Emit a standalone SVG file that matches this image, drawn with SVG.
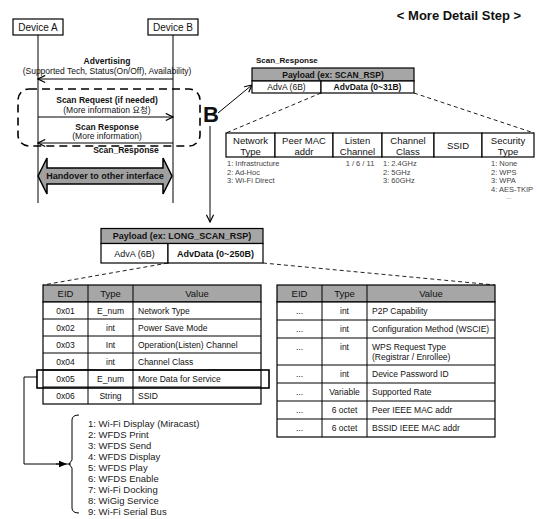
<svg xmlns="http://www.w3.org/2000/svg" width="537" height="519" viewBox="0 0 537 519">
<defs>
<style>
text{font-family:'Liberation Sans',Arial,'Noto Sans CJK KR',sans-serif;fill:#111}
.b{font-weight:bold}
.c{text-anchor:middle}
.s85{font-size:8.5px}
.s9{font-size:9px}
.s95{font-size:9.5px}
.sub{font-size:7.5px;fill:#444}
.lst{font-size:9.5px;fill:#222}
.box{fill:#fff;stroke:#000;stroke-width:1.2}
.hd{fill:#a6a6a6;stroke:#000;stroke-width:1.2}
.ln{fill:none;stroke:#000;stroke-width:1}
.dash{fill:none;stroke:#222;stroke-width:1;stroke-dasharray:4,3}
</style>
<marker id="open" viewBox="0 0 10 10" refX="9" refY="5" markerWidth="9" markerHeight="9" orient="auto" markerUnits="userSpaceOnUse">
<path d="M1,1 L9,5 L1,9" fill="none" stroke="#000" stroke-width="1.3"/>
</marker>
<marker id="fill" viewBox="0 0 10 10" refX="5" refY="5" markerWidth="8" markerHeight="8" orient="auto" markerUnits="userSpaceOnUse">
<path d="M0,1 L10,5 L0,9 Z" fill="#000"/>
</marker>
</defs>
<rect width="537" height="519" fill="#fff"/>

<text x="459" y="19.5" class="b c" style="font-size:13px">&lt; More Detail Step &gt;</text>

<g id="deviceA">
<line x1="38" y1="35" x2="38" y2="203" class="ln"/>
<rect x="13" y="19" width="50" height="16" class="box"/>
<text x="38" y="30.5" class="c" style="font-size:10px">Device A</text>
</g>
<g id="deviceB">
<line x1="173" y1="35" x2="173" y2="203" class="ln"/>
<rect x="148" y="19" width="50" height="16" class="box"/>
<text x="173" y="30.5" class="c" style="font-size:10px">Device B</text>
</g>

<g id="scan-group">
<rect x="18" y="89" width="182" height="57" rx="11" fill="none" stroke="#000" stroke-width="1.6" stroke-dasharray="8,5"/>
</g>

<g id="connectors">
<line x1="173" y1="79" x2="38" y2="79" class="ln" marker-end="url(#open)"/>
<line x1="38" y1="117" x2="173" y2="117" class="ln" marker-end="url(#open)"/>
<line x1="173" y1="143" x2="38" y2="143" class="ln" marker-end="url(#open)"/>
<line x1="218" y1="113" x2="252" y2="85" class="ln" marker-end="url(#open)"/>
<line x1="210" y1="126" x2="210" y2="222" class="ln" marker-end="url(#open)"/>
<line x1="321" y1="93" x2="226" y2="133" class="dash"/>
<line x1="414" y1="93" x2="534" y2="133" class="dash"/>
<line x1="168" y1="263" x2="43" y2="285" class="dash"/>
<line x1="263" y1="263" x2="495" y2="285" class="dash"/>
<path d="M37,377 H24 V464 H71" class="ln"/>
<path d="M56,464 H63" class="ln" marker-end="url(#fill)"/>
</g>

<g id="messages">
<text x="107" y="64" class="b c s85">Advertising</text>
<text x="107" y="74" class="c s85">(Supported Tech, Status(On/Off), Availability)</text>
<text x="107" y="103" class="b c s85">Scan Request (if needed)</text>
<text x="107" y="113" class="c s85">(More information 요청)</text>
<text x="107" y="130" class="b c s85">Scan Response</text>
<text x="107" y="139" class="c s85">(More information)</text>
<text x="126" y="153" class="b c s85">Scan_Response</text>
</g>

<g id="handover">
<path d="M38,176 L47,158 L47,168 L163,168 L163,158 L172,176 L163,194 L163,184 L47,184 L47,194 Z" fill="#a0a0a0" stroke="#000" stroke-width="1.5"/>
<text x="105" y="179" class="b c s9">Handover to other interface</text>
</g>

<g id="B">
<text x="203" y="122" class="b" style="font-size:22px">B</text>
</g>

<g id="scan-payload">
<text x="256" y="63" class="b" style="font-size:8px">Scan_Response</text>
<rect x="252" y="68" width="162" height="13" class="hd"/>
<rect x="252" y="81" width="69" height="12" class="box"/>
<rect x="321" y="81" width="93" height="12" class="box"/>
<text x="333" y="77.5" class="b c s85">Payload (ex: SCAN_RSP)</text>
<text x="286.5" y="90" class="c s85">AdvA (6B)</text>
<text x="367.5" y="90" class="b c s85">AdvData (0~31B)</text>
</g>

<g id="scan-fields">
<rect x="226" y="133" width="49" height="24" class="box"/>
<rect x="275" y="133" width="58" height="24" class="box"/>
<rect x="333" y="133" width="49" height="24" class="box"/>
<rect x="382" y="133" width="52" height="24" class="box"/>
<rect x="434" y="133" width="48" height="24" class="box"/>
<rect x="482" y="133" width="52" height="24" class="box"/>
<text x="250.5" y="144" class="c s95">Network</text>
<text x="250.5" y="154.5" class="c s95">Type</text>
<text x="304" y="144" class="c s95">Peer MAC</text>
<text x="304" y="154.5" class="c s95">addr</text>
<text x="357.5" y="144" class="c s95">Listen</text>
<text x="357.5" y="154.5" class="c s95">Channel</text>
<text x="408" y="144" class="c s95">Channel</text>
<text x="408" y="154.5" class="c s95">Class</text>
<text x="458" y="148.5" class="c s95">SSID</text>
<text x="508" y="144" class="c s95">Security</text>
<text x="508" y="154.5" class="c s95">Type</text>
<text x="227" y="166" class="sub">1:  Infrastructure</text>
<text x="227" y="174.5" class="sub">2:  Ad-Hoc</text>
<text x="227" y="183" class="sub">3:  Wi-Fi Direct</text>
<text x="360" y="166" class="sub c">1 / 6 / 11</text>
<text x="383" y="166" class="sub">1:  2.4GHz</text>
<text x="383" y="174.5" class="sub">2:  5GHz</text>
<text x="383" y="183" class="sub">3:  60GHz</text>
<text x="491" y="166" class="sub">1:  None</text>
<text x="491" y="174.5" class="sub">2:  WPS</text>
<text x="491" y="183" class="sub">3:  WPA</text>
<text x="491" y="191.5" class="sub">4:  AES-TKIP</text>
<text x="506" y="199" class="sub" style="font-size:5px">....</text>
</g>

<g id="long-payload">
<rect x="101" y="228.5" width="162" height="15" class="hd"/>
<rect x="101" y="243.5" width="67" height="19.5" class="box"/>
<rect x="168" y="243.5" width="95" height="19.5" class="box"/>
<text x="182" y="239.2" class="b c s9">Payload (ex: LONG_SCAN_RSP)</text>
<text x="134.5" y="256.5" class="c s9">AdvA (6B)</text>
<text x="215.5" y="256.5" class="b c s9">AdvData (0~250B)</text>
</g>

<g id="table-left">
<rect x="43" y="285" width="218" height="17" class="hd"/>
<rect x="43" y="302" width="218" height="102" class="box"/>
<path d="M43,319 H261 M43,336 H261 M43,353 H261 M43,370 H261 M43,387 H261 M88,285 V404 M133,285 V404" class="ln"/>
<text x="65.5" y="297" class="c s95">EID</text>
<text x="110.5" y="297" class="c s95">Type</text>
<text x="197" y="297" class="c s95">Value</text>
<text x="65.5" y="313.5" class="c s85">0x01</text>
<text x="110.5" y="313.5" class="c s85">E_num</text>
<text x="138" y="313.5" class="s85">Network Type</text>
<text x="65.5" y="330.5" class="c s85">0x02</text>
<text x="110.5" y="330.5" class="c s85">int</text>
<text x="138" y="330.5" class="s85">Power Save Mode</text>
<text x="65.5" y="347.5" class="c s85">0x03</text>
<text x="110.5" y="347.5" class="c s85">Int</text>
<text x="138" y="347.5" class="s85">Operation(Listen) Channel</text>
<text x="65.5" y="364.5" class="c s85">0x04</text>
<text x="110.5" y="364.5" class="c s85">int</text>
<text x="138" y="364.5" class="s85">Channel Class</text>
<text x="65.5" y="381.5" class="c s85">0x05</text>
<text x="110.5" y="381.5" class="c s85">E_num</text>
<text x="138" y="381.5" class="s85">More Data for Service</text>
<text x="65.5" y="398.5" class="c s85">0x06</text>
<text x="110.5" y="398.5" class="c s85">String</text>
<text x="138" y="398.5" class="s85">SSID</text>
<rect x="37" y="370" width="232" height="18" fill="none" stroke="#000" stroke-width="1.6"/>
</g>

<g id="table-right">
<rect x="277" y="285" width="218" height="17" class="hd"/>
<rect x="277" y="302" width="218" height="135" class="box"/>
<path d="M277,320 H495 M277,338 H495 M277,365 H495 M277,383 H495 M277,401 H495 M277,419 H495 M322,285 V437 M367,285 V437" class="ln"/>
<text x="299.5" y="297" class="c s95">EID</text>
<text x="344.5" y="297" class="c s95">Type</text>
<text x="431" y="297" class="c s95">Value</text>
<text x="299.5" y="314" class="c s85">...</text>
<text x="344.5" y="314" class="c s85">int</text>
<text x="372" y="314" class="s85">P2P Capability</text>
<text x="299.5" y="332" class="c s85">...</text>
<text x="344.5" y="332" class="c s85">int</text>
<text x="372" y="332" class="s85">Configuration Method (WSCIE)</text>
<text x="299.5" y="349.5" class="c s85">...</text>
<text x="344.5" y="349.5" class="c s85">int</text>
<text x="372" y="349.5" class="s85">WPS Request Type</text>
<text x="372" y="360" class="s85">(Registrar / Enrollee)</text>
<text x="299.5" y="377" class="c s85">...</text>
<text x="344.5" y="377" class="c s85">int</text>
<text x="372" y="377" class="s85">Device Password ID</text>
<text x="299.5" y="395" class="c s85">...</text>
<text x="344.5" y="395" class="c s85">Variable</text>
<text x="372" y="395" class="s85">Supported Rate</text>
<text x="299.5" y="413" class="c s85">...</text>
<text x="344.5" y="413" class="c s85">6 octet</text>
<text x="372" y="413" class="s85">Peer IEEE MAC addr</text>
<text x="299.5" y="431" class="c s85">...</text>
<text x="344.5" y="431" class="c s85">6 octet</text>
<text x="372" y="431" class="s85">BSSID IEEE MAC addr</text>
</g>

<g id="service-list">
<path d="M79,415 Q72,415 72,420 V460 L69,464 L72,468 V508 Q72,513 79,513" class="ln"/>
<text x="88" y="427" class="lst">1: Wi-Fi Display (Miracast)</text>
<text x="88" y="438" class="lst">2: WFDS Print</text>
<text x="88" y="449" class="lst">3: WFDS Send</text>
<text x="88" y="460" class="lst">4: WFDS Display</text>
<text x="88" y="471" class="lst">5: WFDS Play</text>
<text x="88" y="482" class="lst">6: WFDS Enable</text>
<text x="88" y="493" class="lst">7: Wi-Fi Docking</text>
<text x="88" y="504" class="lst">8: WiGig Service</text>
<text x="88" y="515" class="lst">9: Wi-Fi Serial Bus</text>
</g>
</svg>
